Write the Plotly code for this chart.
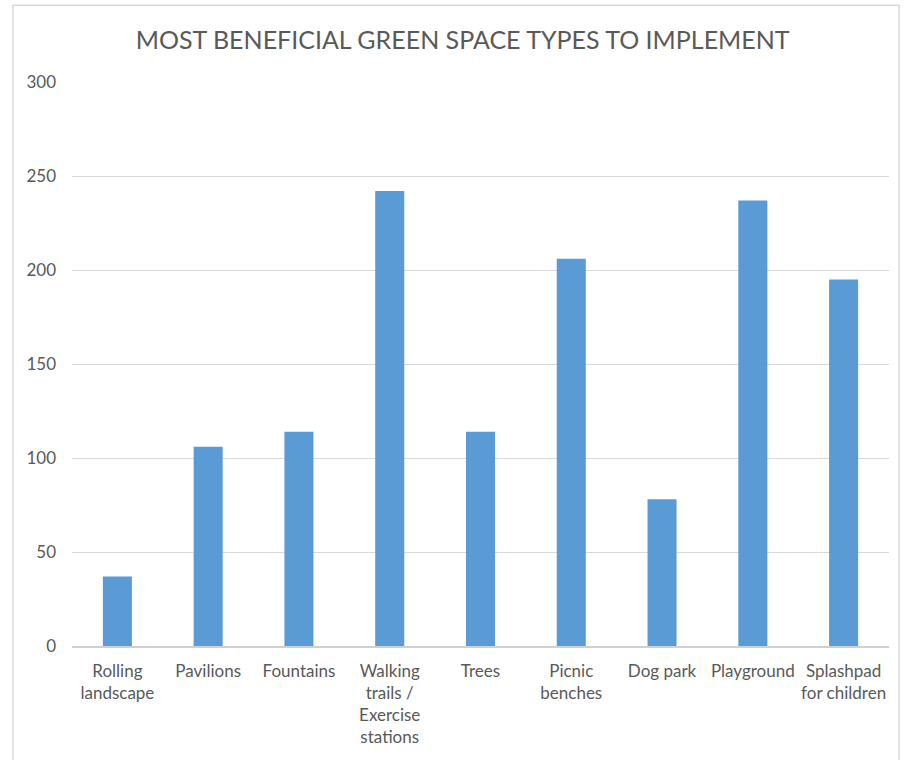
import plotly.graph_objects as go

categories = ["Rolling<br>landscape", "Pavilions", "Fountains",
              "Walking<br>trails /<br>Exercise<br>stations", "Trees",
              "Picnic<br>benches", "Dog park", "Playground",
              "Splashpad<br>for children"]
values = [37, 106, 114, 242, 114, 206, 78, 237, 195]
y_ticks = [0, 50, 100, 150, 200, 250, 300]

font_family = "Lato, Open Sans, sans-serif"
text_color = "#595959"

fig = go.Figure(go.Bar(x=categories, y=values, marker_color="#5B9BD5",
                       marker_line_width=0))

fig.update_layout(
    width=909, height=760,
    margin=dict(l=72, r=20, t=82, b=114),
    paper_bgcolor="white", plot_bgcolor="white",
    bargap=0.68,
    showlegend=False,
    title=dict(text="MOST BENEFICIAL GREEN SPACE TYPES TO IMPLEMENT",
               x=0.509, xanchor="center", y=0.947, yanchor="middle",
               font=dict(family=font_family, size=25, color=text_color)),
    font=dict(family=font_family, size=17, color=text_color),
)
fig.update_xaxes(showgrid=False, showline=True, linecolor="#d0d0d0", linewidth=1.5,
                 tickfont=dict(size=17, color=text_color), ticks="",
                 ticklabelstandoff=9)
fig.update_yaxes(range=[0, 300], tickvals=y_ticks, showgrid=True,
                 gridcolor="#d9d9d9", gridwidth=1, zeroline=False,
                 showline=False, ticks="", ticklabelstandoff=15,
                 tickfont=dict(size=17, color=text_color))

fig.add_shape(type="rect", xref="paper", yref="paper",
              x0=-0.0722, x1=1.0122, y0=-0.25, y1=1.136,
              line=dict(color="#d9d9d9", width=1.5), fillcolor="rgba(0,0,0,0)",
              layer="below")

fig.write_html("out.html", config={"displayModeBar": False})

with open("out.html", "r", encoding="utf-8") as f:
    html = f.read()
html = html.replace("<body>", '<body style="margin:0">', 1)
with open("out.html", "w", encoding="utf-8") as f:
    f.write(html)
